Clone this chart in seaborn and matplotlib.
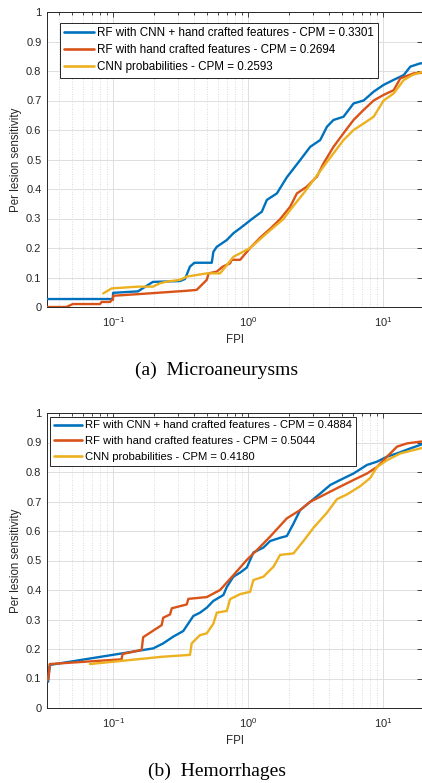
import numpy as np
import pandas as pd
import matplotlib
matplotlib.use("Agg")
import matplotlib.pyplot as plt
import seaborn as sns
from matplotlib.ticker import LogLocator, NullFormatter, FormatStrFormatter

# ---------------- data ----------------
series_names = ["RF with CNN + hand crafted features",
                "RF with hand crafted features",
                "CNN probabilities"]
colors = ["#0072BD", "#D95319", "#EDB120"]

ma_cpm = ["0.3301", "0.2694", "0.2593"]
he_cpm = ["0.4884", "0.5044", "0.4180"]

# Microaneurysms
ma_blue_fpi = [0.0323, 0.0975, 0.0997, 0.1, 0.1527, 0.197, 0.313, 0.341, 0.371, 0.40, 0.538,
               0.553, 0.586, 0.695, 0.778, 0.873, 0.95, 1.065, 1.263, 1.377, 1.633, 1.937,
               2.43, 2.884, 3.42, 3.835, 4.29, 5.09, 6.04, 7.17, 8.51, 10.09, 11.97, 14.2,
               15.92, 18.88, 19.44]
ma_blue_sens = [0.027, 0.027, 0.03, 0.048, 0.053, 0.085, 0.088, 0.095, 0.137, 0.15, 0.15,
                0.187, 0.204, 0.227, 0.25, 0.267, 0.28, 0.298, 0.323, 0.363, 0.385, 0.44,
                0.498, 0.543, 0.566, 0.611, 0.634, 0.645, 0.69, 0.70, 0.73, 0.753, 0.77, 0.786,
                0.815, 0.826, 0.826]

ma_orange_fpi = [0.0323, 0.045, 0.0503, 0.08, 0.0822, 0.095, 0.0975, 0.0997, 0.1, 0.197,
                 0.351, 0.416, 0.44, 0.494, 0.51, 0.586, 0.65, 0.735, 0.757, 0.873, 1.035,
                 1.227, 1.456, 1.727, 2.05, 2.297, 2.724, 3.234, 3.62, 4.29, 5.09, 6.04, 7.17,
                 8.51, 10.09, 11.97, 13.42, 16.84, 19.44]
ma_orange_sens = [0.0, 0.0, 0.01, 0.01, 0.017, 0.017, 0.024, 0.024, 0.038, 0.047,
                  0.055, 0.058, 0.069, 0.092, 0.114, 0.12, 0.137, 0.148, 0.16, 0.16, 0.20,
                  0.235, 0.265, 0.298, 0.34, 0.385, 0.408, 0.442, 0.487, 0.543, 0.589, 0.634,
                  0.668, 0.70, 0.719, 0.735, 0.775, 0.792, 0.794]

ma_yellow_fpi = [0.0845, 0.0975, 0.1527, 0.197, 0.222, 0.25, 0.313, 0.351, 0.494, 0.62,
                 0.695, 0.778, 0.873, 1.035, 1.227, 1.456, 1.828, 2.05, 2.57, 3.05, 3.62,
                 4.29, 5.09, 6.04, 7.17, 8.51, 10.09, 11.97, 14.2, 16.38, 19.44]
ma_yellow_sens = [0.046, 0.063, 0.069, 0.069, 0.08, 0.086, 0.092, 0.103, 0.114, 0.114,
                  0.142, 0.17, 0.182, 0.20, 0.23, 0.26, 0.298, 0.329, 0.385, 0.43, 0.476,
                  0.521, 0.566, 0.60, 0.622, 0.645, 0.70, 0.724, 0.769, 0.786, 0.797]

# Hemorrhages
he_blue_fpi = [0.033, 0.034, 0.198, 0.235, 0.279, 0.331, 0.393, 0.44, 0.494, 0.553, 0.656,
               0.695, 0.778, 0.873, 0.978, 1.095, 1.299, 1.456, 1.727, 1.937, 2.168, 2.43,
               2.884, 3.42, 4.06, 4.81, 6.04, 7.60, 9.01, 10.69, 12.68, 15.92, 18.88, 19.44]
he_blue_sens = [0.089, 0.146, 0.202, 0.219, 0.242, 0.261, 0.312, 0.323, 0.34, 0.363, 0.383,
                0.41, 0.445, 0.459, 0.476, 0.527, 0.544, 0.566, 0.577, 0.583, 0.625, 0.671,
                0.699, 0.727, 0.756, 0.773, 0.795, 0.824, 0.835, 0.852, 0.863, 0.88, 0.892, 0.895]

he_orange_fpi = [0.033, 0.034, 0.1156, 0.1175, 0.1627, 0.167, 0.229, 0.235, 0.264, 0.272,
                 0.351, 0.361, 0.494, 0.62, 0.778, 0.978, 1.16, 1.456, 1.937, 2.43, 2.884,
                 3.42, 4.55, 6.04, 7.60, 9.01, 10.69, 12.68, 15.04, 18.88, 19.44]
he_orange_sens = [0.095, 0.149, 0.165, 0.183, 0.197, 0.24, 0.281, 0.306, 0.317, 0.338,
                  0.351, 0.37, 0.376, 0.40, 0.45, 0.502, 0.535, 0.581, 0.643, 0.671, 0.699,
                  0.716, 0.745, 0.773, 0.795, 0.817, 0.852, 0.886, 0.897, 0.903, 0.903]

he_yellow_fpi = [0.0673, 0.235, 0.371, 0.382, 0.44, 0.494, 0.553, 0.586, 0.695, 0.735,
                 0.873, 1.035, 1.095, 1.299, 1.541, 1.727, 2.168, 2.57, 3.05, 3.835, 4.55,
                 5.40, 6.77, 8.04, 9.01, 10.69, 13.42, 18.88, 19.44]
he_yellow_sens = [0.149, 0.174, 0.18, 0.219, 0.247, 0.253, 0.286, 0.323, 0.329, 0.369,
                  0.386, 0.394, 0.434, 0.445, 0.479, 0.519, 0.524, 0.566, 0.611, 0.662, 0.708,
                  0.724, 0.752, 0.78, 0.817, 0.84, 0.863, 0.88, 0.882]

x_limits = (0.03239, 19.41)
y_ticks = [0, 0.1, 0.2, 0.3, 0.4, 0.5, 0.6, 0.7, 0.8, 0.9, 1]

# ---------------- style ----------------
sns.set_theme(style="white")
plt.rcParams['font.family'] = ['Liberation Sans', 'DejaVu Sans']
plt.rcParams['mathtext.fontset'] = 'custom'
plt.rcParams['mathtext.rm'] = 'Liberation Sans'
plt.rcParams['mathtext.it'] = 'Liberation Sans:italic'
plt.rcParams['axes.unicode_minus'] = False

W, H = 422, 783
fig = plt.figure(figsize=(W / 100, H / 100), dpi=100)
ax_left = 47 / W
ax_w = 375 / W
ax1 = fig.add_axes([ax_left, (H - 307) / H, ax_w, 295 / H])
ax2 = fig.add_axes([ax_left, (H - 708) / H, ax_w, 295 / H])

TXT = "#262626"


def make_df(fpis, senss, labels):
    frames = []
    for f, s, lab in zip(fpis, senss, labels):
        frames.append(pd.DataFrame({"fpi": f, "sens": s, "series": lab}))
    return pd.concat(frames, ignore_index=True)


def draw(ax, fpis, senss, cpms, leg_anchor, leg_fs, leg_spacing, hlen):
    labels = [f"{n} - CPM = {c}" for n, c in zip(series_names, cpms)]
    df = make_df(fpis, senss, labels)
    sns.lineplot(data=df, x="fpi", y="sens", hue="series", hue_order=labels,
                 palette=colors, sort=False, estimator=None, lw=1.7, ax=ax, zorder=3)
    ax.set_xscale("log")
    ax.set_xlim(*x_limits)
    ax.set_ylim(0, 1)
    ax.set_yticks(y_ticks)
    ax.yaxis.set_major_formatter(FormatStrFormatter("%g"))
    ax.xaxis.set_major_locator(LogLocator(base=10))
    ax.xaxis.set_minor_locator(LogLocator(base=10, subs=np.arange(2, 10)))
    ax.xaxis.set_minor_formatter(NullFormatter())
    ax.set_axisbelow(True)
    ax.grid(True, which="major", color="#dedede", lw=0.7, ls="-")
    ax.grid(True, which="minor", axis="x", color="#cfcfcf", lw=0.6, ls=(0, (1, 2)))
    ax.tick_params(which="major", direction="in", top=True, right=True, length=3.5,
                   width=0.6, color=TXT, labelsize=8, labelcolor=TXT, pad=4)
    ax.tick_params(axis="x", which="major", pad=6)
    ax.tick_params(which="minor", direction="in", top=True, right=True, length=2.2,
                   width=0.6, color=TXT)
    for sp in ax.spines.values():
        sp.set_color(TXT)
        sp.set_linewidth(0.7)
    ax.set_xlabel("")
    ax.set_ylabel("")
    handles, labs = ax.get_legend_handles_labels()
    leg = ax.legend(handles, labs, loc="upper left", bbox_to_anchor=leg_anchor,
                    borderaxespad=0, fontsize=leg_fs, frameon=True, fancybox=False,
                    framealpha=1, edgecolor=TXT, handlelength=hlen, handletextpad=0.3,
                    borderpad=0.35, labelspacing=leg_spacing)
    leg.get_frame().set_linewidth(0.7)
    for t in leg.get_texts():
        t.set_color("black")
    for lh in leg.get_lines():
        lh.set_linewidth(1.9)


draw(ax1, [ma_blue_fpi, ma_orange_fpi, ma_yellow_fpi],
     [ma_blue_sens, ma_orange_sens, ma_yellow_sens], ma_cpm, (0.035, 0.963), 8.4, 0.45, 2.55)
draw(ax2, [he_blue_fpi, he_orange_fpi, he_yellow_fpi],
     [he_blue_sens, he_orange_sens, he_yellow_sens], he_cpm, (0.008, 0.988), 8.1, 0.5, 2.5)

# axis labels & captions
for top_px, bot_px, cap in [(12, 307, "(a)  Microaneurysms"), (413, 708, "(b)  Hemorrhages")]:
    fig.text(16 / W, 1 - (top_px + bot_px) / 2 / H, "Per lesion sensitivity",
             rotation=90, ha="center", va="center", fontsize=8.3, color=TXT)
    fig.text(235 / W, 1 - (bot_px + 33) / H, "FPI", ha="center", va="center",
             fontsize=8.3, color=TXT)
    fig.text(217 / W, 1 - (bot_px + 63) / H, cap, ha="center", va="center",
             fontsize=14, color="black", family=["Liberation Serif", "DejaVu Serif"])

fig.savefig("out.png", dpi=100)
